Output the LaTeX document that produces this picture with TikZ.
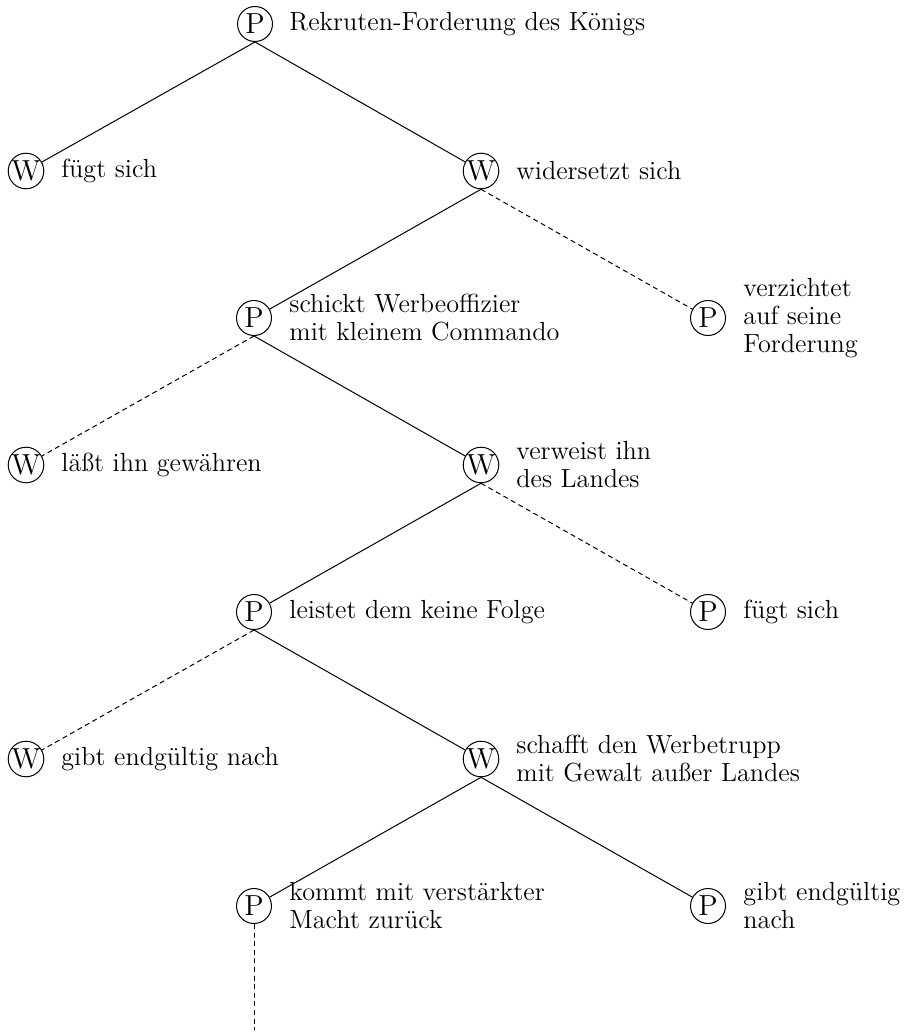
\documentclass[tikz,border=0pt]{standalone}
\begin{document}
\begin{tikzpicture}[x=0.5pt,y=-0.5pt,
  every node/.style={font=\fontsize{13.1}{14}\selectfont},
  pl/.style={circle,draw,line width=0.5pt,minimum size=17.5pt,inner sep=0pt,font=\fontsize{14.5}{14}\selectfont},
  lab/.style={anchor=west,align=left,inner sep=0pt},
  mv/.style={line width=0.5pt},
  alt/.style={line width=0.5pt,dash pattern=on 2.5pt off 1.8pt}]
\useasboundingbox (0,0) rectangle (906,1032);
% nodes
\node[pl] (n0) at (255,24) {P};
\node[lab] (l0) at (289,24) {Rekruten-Forderung des Königs};
\node[pl] (n1) at (26,171) {W};
\node[lab] (l1) at (61,171) {fügt sich};
\node[pl] (n2) at (481,171) {W};
\node[lab] (l2) at (516,171) {widersetzt sich};
\node[pl] (n3) at (254,318) {P};
\node[lab] (l3) at (289,318) {schickt Werbeoffizier\\mit kleinem Commando};
\node[pl] (n4) at (708,318) {P};
\node[lab] (l4) at (743,318) {verzichtet\\auf seine\\Forderung};
\node[pl] (n5) at (26,465) {W};
\node[lab] (l5) at (61,465) {läßt ihn gewähren};
\node[pl] (n6) at (481,465) {W};
\node[lab] (l6) at (516,465) {verweist ihn\\des Landes};
\node[pl] (n7) at (254,612) {P};
\node[lab] (l7) at (289,612) {leistet dem keine Folge};
\node[pl] (n8) at (708,612) {P};
\node[lab] (l8) at (743,612) {fügt sich};
\node[pl] (n9) at (26,759) {W};
\node[lab] (l9) at (61,759) {gibt endgültig nach};
\node[pl] (n10) at (481,759) {W};
\node[lab] (l10) at (516,759) {schafft den Werbetrupp\\mit Gewalt außer Landes};
\node[pl] (n11) at (254,906) {P};
\node[lab] (l11) at (289,906) {kommt mit verstärkter\\Macht zurück};
\node[pl] (n12) at (708,906) {P};
\node[lab] (l12) at (743,906) {gibt endgültig\\nach};
\coordinate (end) at (254,1030);
% edges
\draw[mv] (n0.south) -- (n1);
\draw[mv] (n0.south) -- (n2);
\draw[mv] (n2.south) -- (n3);
\draw[alt] (n2.south) -- (n4);
\draw[alt] (n3.south) -- (n5);
\draw[mv] (n3.south) -- (n6);
\draw[mv] (n6.south) -- (n7);
\draw[alt] (n6.south) -- (n8);
\draw[alt] (n7.south) -- (n9);
\draw[mv] (n7.south) -- (n10);
\draw[mv] (n10.south) -- (n11);
\draw[mv] (n10.south) -- (n12);
\draw[alt] (n11.south) -- (end);
\end{tikzpicture}
\end{document}
